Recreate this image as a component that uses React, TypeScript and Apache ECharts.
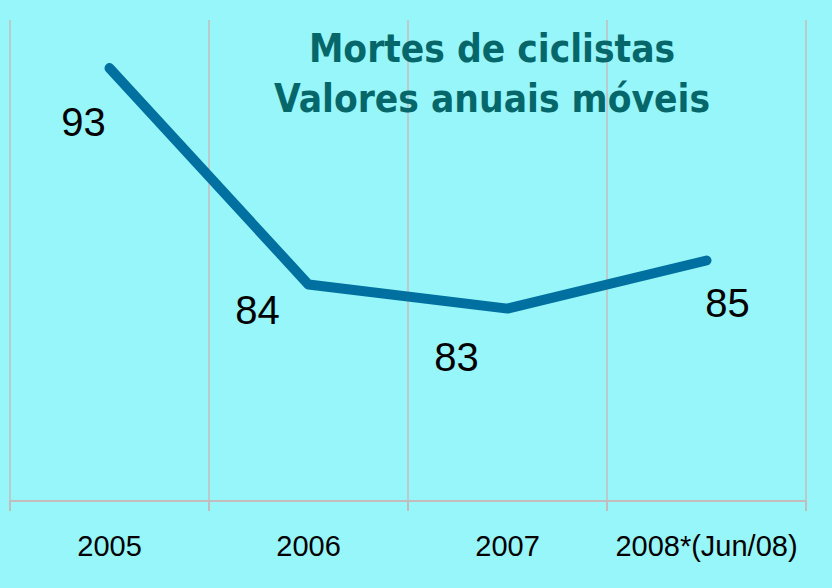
import React, { useEffect, useRef } from "react";
import * as echarts from "echarts";

const categories = ["2005", "2006", "2007", "2008*(Jun/08)"];
const values = [93, 84, 83, 85];
const labelOffsets: [number, number][] = [
  [-26, 54],
  [-51, 25],
  [-51, 48],
  [21, 42],
];
const titleLines = ["Mortes de ciclistas", "Valores anuais móveis"];

export default function App() {
  const ref = useRef<HTMLDivElement>(null);
  useEffect(() => {
    if (!ref.current) return;
    const chart = echarts.init(ref.current, undefined, { renderer: "svg" });
    chart.setOption({
      animation: false,
      backgroundColor: "#97F6FA",
      title: {
        text: titleLines.join("\n"),
        left: 487,
        top: 18,
        textAlign: "center",
        textStyle: {
          color: "#06676A",
          fontFamily: "DejaVu Sans Condensed",
          fontWeight: "bold",
          fontSize: 38.5,
          lineHeight: 50,
        },
      },
      grid: { left: 10, right: 26, top: 20, bottom: 87 },
      xAxis: {
        type: "category",
        data: categories,
        boundaryGap: true,
        axisLine: { lineStyle: { color: "#C4BCBC", width: 2 } },
        axisTick: { show: true, interval: 0, length: 10, lineStyle: { color: "#C4BCBC", width: 2 } },
        splitLine: { show: true, interval: 0, lineStyle: { color: "#C4BCBC", width: 1.5 } },
        axisLabel: {
          interval: 0,
          color: "#000",
          fontFamily: "Liberation Sans, Arial",
          fontSize: 29,
          margin: 30,
        },
      },
      yAxis: {
        type: "value",
        min: 75,
        max: 95,
        show: false,
        splitLine: { show: false },
      },
      series: [
        {
          type: "line",
          data: values.map((v, i) => ({
            value: v,
            label: { offset: labelOffsets[i] },
          })),
          symbol: "circle",
          symbolSize: 1,
          showSymbol: true,
          itemStyle: { color: "#0070A0" },
          lineStyle: { color: "#0070A0", width: 10, cap: "round", join: "round" },
          label: {
            show: true,
            position: "inside",
            color: "#000",
            fontFamily: "Liberation Sans, Arial",
            fontSize: 40,
          },
        },
      ],
    });
    return () => chart.dispose();
  }, []);
  return (
    <div
      ref={ref}
      style={{ position: "fixed", left: 0, top: 0, width: 832, height: 588 }}
    />
  );
}
